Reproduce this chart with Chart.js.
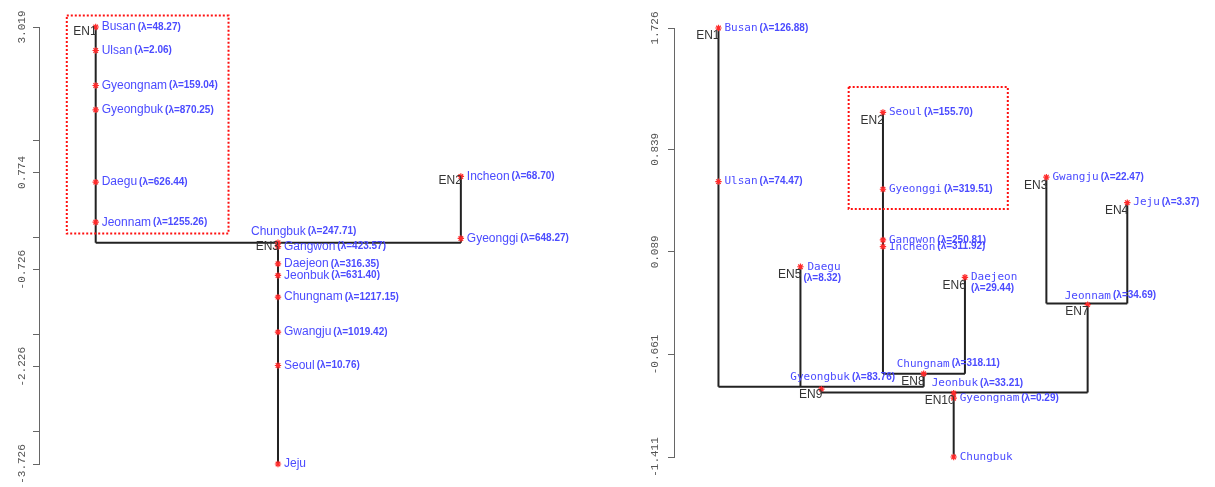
<!DOCTYPE html>
<html>
<head>
<meta charset="utf-8">
<script src="https://cdn.jsdelivr.net/npm/chart.js@4.4.1/dist/chart.umd.min.js"></script>
<style>
  html, body { margin: 0; padding: 0; background: #fff; }
  #wrapL { position: absolute; left: 0; top: 0; width: 600px; height: 487px; }
  #wrapR { position: absolute; left: 600px; top: 0; width: 615px; height: 487px; }
</style>
</head>
<body>
<div id="wrapL"><canvas id="treeL"></canvas></div>
<div id="wrapR"><canvas id="treeR"></canvas></div>
<script>
// ---- left tree ----
var leftNames = ['Busan', 'Ulsan', 'Gyeongnam', 'Gyeongbuk', 'Daegu', 'Jeonnam', 'Incheon', 'Gyeonggi',
  'Chungbuk', 'Gangwon', 'Daejeon', 'Jeonbuk', 'Chungnam', 'Gwangju', 'Seoul', 'Jeju'];
var leftLambda = ['48.27', '2.06', '159.04', '870.25', '626.44', '1255.26', '68.70', '648.27',
  '247.71', '423.57', '316.35', '631.40', '1217.15', '1019.42', '10.76', null];
var leftValues = [3.019, 2.656, 2.116, 1.741, 0.624, 0.006, 0.712, -0.245,
  -0.31, -0.37, -0.636, -0.816, -1.151, -1.691, -2.206, -3.726];
var leftGroup = ['EN1', 'EN1', 'EN1', 'EN1', 'EN1', 'EN1', 'EN2', 'EN2',
  'EN3', 'EN3', 'EN3', 'EN3', 'EN3', 'EN3', 'EN3', 'EN3'];
var leftNodes = ['EN1', 'EN2', 'EN3'];
var leftNodeX = [10.2, 75.9, 43.0];
var leftNodeY = [3.019, 0.712, -0.31];
var leftParent = ['EN3', 'EN3', null];
var leftTicks = [3.019, 1.274, 0.774, -0.226, -0.726, -1.726, -2.226, -3.226, -3.726];
var leftTickLabels = [3.019, 0.774, -0.726, -2.226, -3.726];
var leftBoxX = [5.0, 34.1];
var leftBoxY = [3.196, -0.168];

// ---- right tree ----
var rightNames = ['Busan', 'Ulsan', 'Seoul', 'Gyeonggi', 'Gangwon', 'Incheon', 'Gwangju', 'Jeju',
  'Daegu', 'Daejeon', 'Jeonnam', 'Chungnam', 'Gyeongbuk', 'Jeonbuk', 'Gyeongnam', 'Chungbuk'];
var rightLambda = ['126.88', '74.47', '155.70', '319.51', '250.81', '311.92', '22.47', '3.37',
  '8.32', '29.44', '34.69', '318.11', '83.76', '33.21', '0.29', null];
var rightValues = [1.726, 0.603, 1.109, 0.547, 0.176, 0.127, 0.635, 0.449,
  -0.020, -0.097, -0.297, -0.802, -0.915, -0.945, -0.981, -1.411];
var rightGroup = ['EN1', 'EN1', 'EN2', 'EN2', 'EN2', 'EN2', 'EN3', 'EN4',
  'EN5', 'EN6', 'EN7', 'EN8', 'EN9', 'EN10', 'EN10', 'EN10'];
var rightNodes = ['EN1', 'EN2', 'EN3', 'EN4', 'EN5', 'EN6', 'EN7', 'EN8', 'EN9', 'EN10'];
var rightNodeX = [8.3, 39.0, 69.5, 84.6, 23.6, 54.3, 77.2, 46.6, 27.5, 52.2];
var rightNodeY = [1.726, 1.109, 0.635, 0.449, -0.020, -0.097, -0.289, -0.802, -0.898, -0.940];
var rightParent = ['EN9', 'EN8', 'EN7', 'EN7', 'EN9', 'EN8', 'EN10', 'EN9', 'EN10', null];
var rightTicks = [1.726, 0.839, 0.089, -0.661, -1.411];
var rightTickLabels = [1.726, 0.839, 0.089, -0.661, -1.411];
var rightBoxX = [32.6, 62.3];
var rightBoxY = [1.294, 0.403];

// where a label sits relative to its marker (pixels), default is to the right
var leftLabelPos = { Chungbuk: { dx: -27, dy: -11 } };
var rightLabelPos = {
  Daegu: { stack: true, dx: 7, dx2: 3 },
  Daejeon: { stack: true, dx: 6, dx2: 6 },
  Jeonnam: { dx: -23, dy: -9 },
  Chungnam: { dx: -27, dy: -10 },
  Gyeongbuk: { dx: -31, dy: -12 },
  Jeonbuk: { dx: -22, dy: -10 }
};

var BLUE = '#4b4bff';
var RED = '#ff2a2a';

function seg(points) {
  return {
    data: points.map(p => ({ x: p[0], y: p[1] })),
    showLine: true, pointRadius: 0, borderColor: '#222', borderWidth: 2,
    clip: false, tension: 0
  };
}

function buildDatasets(t) {
  var idx = n => t.nodes.indexOf(n);
  var sets = [];
  // markers on top
  sets.push({
    data: t.values.map((v, i) => ({ x: t.nodeX[idx(t.group[i])], y: v })),
    showLine: false, pointStyle: 'star', pointRadius: 3.2, borderColor: RED,
    backgroundColor: RED, borderWidth: 1.2, clip: false
  });
  // dotted box
  sets.push({
    data: [[t.boxX[0], t.boxY[0]], [t.boxX[1], t.boxY[0]], [t.boxX[1], t.boxY[1]],
      [t.boxX[0], t.boxY[1]], [t.boxX[0], t.boxY[0]]].map(p => ({ x: p[0], y: p[1] })),
    showLine: true, pointRadius: 0, borderColor: '#ff1010', borderWidth: 2,
    borderDash: [2, 2], clip: false, tension: 0
  });
  // branches
  t.nodes.forEach((n, i) => {
    var x = t.nodeX[i];
    var ys = t.values.filter((v, k) => t.group[k] === n);
    var top = Math.max(t.nodeY[i], ...ys);
    var bottom = Math.min(t.nodeY[i], ...ys);
    if (t.parent[i]) bottom = Math.min(bottom, t.nodeY[idx(t.parent[i])]);
    sets.push(seg([[x, top], [x, bottom]]));
    var kids = t.nodes.filter((m, k) => t.parent[k] === n);
    if (kids.length) {
      var xs = kids.map(k => t.nodeX[idx(k)]).concat([x]);
      sets.push(seg([[Math.min(...xs), t.nodeY[i]], [Math.max(...xs), t.nodeY[i]]]));
    }
  });
  return sets;
}

var labelPlugin = {
  id: 'treeLabels',
  afterDatasetsDraw(chart) {
    var t = chart.options.plugins.treeLabels.tree;
    var ctx = chart.ctx;
    var xs = chart.scales.x, ys = chart.scales.y;
    var idx = n => t.nodes.indexOf(n);
    ctx.save();
    // node names
    ctx.font = '12px "Liberation Sans Narrow", "Liberation Sans", sans-serif';
    ctx.fillStyle = '#333';
    ctx.textAlign = 'right';
    ctx.textBaseline = 'middle';
    t.nodes.forEach((n, i) => {
      ctx.fillText(n, xs.getPixelForValue(t.nodeX[i]) + 1, ys.getPixelForValue(t.nodeY[i]) + t.enDy);
    });
    // region labels
    ctx.fillStyle = BLUE;
    ctx.textAlign = 'left';
    t.names.forEach((name, i) => {
      var px = xs.getPixelForValue(t.nodeX[idx(t.group[i])]);
      var py = ys.getPixelForValue(t.values[i]);
      var pos = t.labelPos[name] || { dx: 6, dy: 0 };
      var lam = t.lambda[i] ? '(\u03bb=' + t.lambda[i] + ')' : null;
      ctx.font = t.nameFont;
      if (pos.stack) {
        ctx.fillText(name, px + pos.dx, py);
        ctx.font = t.lamFont;
        ctx.fillText(lam, px + pos.dx2, py + 11);
      } else {
        ctx.fillText(name, px + pos.dx, py + pos.dy);
        if (lam) {
          var w = ctx.measureText(name).width;
          ctx.font = t.lamFont;
          ctx.fillText(lam, px + pos.dx + w + 2, py + pos.dy);
        }
      }
    });
    ctx.restore();
  }
};

function makeTree(id, t) {
  return new Chart(document.getElementById(id), {
    type: 'scatter',
    data: { datasets: buildDatasets(t) },
    plugins: [labelPlugin],
    options: {
      responsive: true,
      maintainAspectRatio: false,
      animation: false,
      layout: { padding: t.padding },
      plugins: {
        legend: { display: false },
        tooltip: { enabled: false },
        treeLabels: { tree: t }
      },
      scales: {
        x: { type: 'linear', min: 0, max: 100, display: false },
        y: {
          type: 'linear',
          min: t.ticks[t.ticks.length - 1],
          max: t.ticks[0],
          afterBuildTicks: scale => { scale.ticks = t.ticks.map(v => ({ value: v })); },
          afterFit: scale => { scale.width = t.axisWidth; scale.paddingTop = 0; scale.paddingBottom = 0; },
          grid: { drawOnChartArea: false, drawTicks: true, tickLength: 6, color: '#666', lineWidth: 1 },
          border: { display: true, color: '#666', width: 1 },
          ticks: {
            minRotation: 90, maxRotation: 90, crossAlign: 'center', padding: t.tickPad,
            color: '#555', autoSkip: false,
            font: { family: '"Liberation Mono", "DejaVu Sans Mono", monospace', size: 11 },
            callback: v => t.tickLabels.includes(v) ? v.toFixed(3) : ''
          }
        }
      }
    }
  });
}

makeTree('treeL', {
  names: leftNames, lambda: leftLambda, values: leftValues, group: leftGroup,
  nodes: leftNodes, nodeX: leftNodeX, nodeY: leftNodeY, parent: leftParent,
  ticks: leftTicks, tickLabels: leftTickLabels, boxX: leftBoxX, boxY: leftBoxY,
  labelPos: leftLabelPos,
  nameFont: '12px "Liberation Sans", sans-serif',
  lamFont: 'bold 10px "Liberation Sans", sans-serif',
  enDy: 4.5, axisWidth: 39, tickPad: -9,
  padding: { top: 27, bottom: 23, left: 0, right: 0 }
});

makeTree('treeR', {
  names: rightNames, lambda: rightLambda, values: rightValues, group: rightGroup,
  nodes: rightNodes, nodeX: rightNodeX, nodeY: rightNodeY, parent: rightParent,
  ticks: rightTicks, tickLabels: rightTickLabels, boxX: rightBoxX, boxY: rightBoxY,
  labelPos: rightLabelPos,
  nameFont: '11px "DejaVu Sans Mono", monospace',
  lamFont: 'bold 10px "Liberation Sans", sans-serif',
  enDy: 8, axisWidth: 74, tickPad: -7,
  padding: { top: 28, bottom: 30, left: 0, right: 0 }
});
</script>
</body>
</html>
